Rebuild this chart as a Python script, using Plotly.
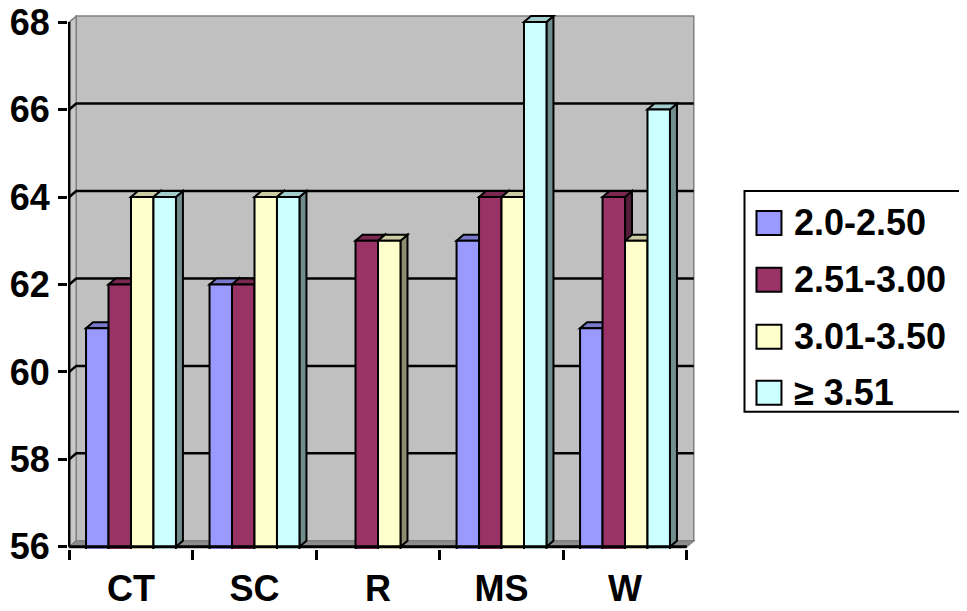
import plotly.graph_objects as go

# ---------------- data ----------------
categories = ["CT", "SC", "R", "MS", "W"]
series_names = ["2.0-2.50", "2.51-3.00", "3.01-3.50", "\u2265 3.51"]
s_20_250 = [61, 62, None, 63, 61]
s_251_300 = [62, 62, 63, 64, 64]
s_301_350 = [64, 64, 63, 64, 63]
s_351_up = [64, 64, None, 68, 66]
y_ticks = [56, 58, 60, 62, 64, 66, 68]

series_values = [s_20_250, s_251_300, s_301_350, s_351_up]
colors = ["#9999FF", "#993366", "#FFFFCC", "#CCFFFF"]


def shade(hexcol, f):
    h = hexcol.lstrip("#")
    r, g, b = (int(h[i:i + 2], 16) for i in (0, 2, 4))
    return "#%02X%02X%02X" % (int(r * f), int(g * f), int(b * f))


top_colors = [shade(c, 0.8) for c in colors]
side_colors = [shade(c, 0.55) for c in colors]

# ---------------- geometry (style) ----------------
OFF = 8               # default page body margin of the html page
W, H = 967 - OFF, 611 - OFF
PX_X = 123.6          # px per category unit
PX_Y = 43.75          # px per value unit
DXU = 7 / PX_X        # 3D depth offset (x, data units)
DYU = 6 / PX_Y        # 3D depth offset (y, data units)
BARGAP = 0.272
YMIN, YMAX = 56, 68

x_range = [-0.51, len(categories) - 0.5 + DXU + 0.01]
y_range = [YMIN - 0.05, YMAX + DYU + 0.025]

plot_w = (x_range[1] - x_range[0]) * PX_X
plot_h = (y_range[1] - y_range[0]) * PX_Y
m_l = 68 - OFF
m_t = 15 - OFF
m_r = W - m_l - plot_w
m_b = H - m_t - plot_h

xpos = list(range(len(categories)))
FONT = dict(family="Arial, Liberation Sans, sans-serif", size=36, color="black", weight="bold")

fig = go.Figure()
for name, vals, col in zip(series_names, series_values, colors):
    fig.add_trace(go.Bar(
        x=xpos, y=vals, name=name, marker=dict(color=col, line=dict(color="black", width=2)),
        showlegend=False,
    ))

shapes = []
L, R = -0.5, len(categories) - 0.5


def P(pts):
    return "M " + " L ".join(f"{x:.5f},{y:.5f}" for x, y in pts) + " Z"


def PL(pts):
    return "M " + " L ".join(f"{x:.5f},{y:.5f}" for x, y in pts)


# back wall
shapes.append(dict(type="rect", xref="x", yref="y", layer="below",
                   x0=L + DXU, x1=R + DXU, y0=YMIN + DYU, y1=YMAX + DYU,
                   fillcolor="#C0C0C0", line=dict(color="#808080", width=1.5)))
# left wall
shapes.append(dict(type="path", xref="x", yref="y", layer="below",
                   path=P([(L, YMIN), (L + DXU, YMIN + DYU), (L + DXU, YMAX + DYU), (L, YMAX)]),
                   fillcolor="#C8C8C8", line=dict(color="#808080", width=1.5)))
# floor
shapes.append(dict(type="path", xref="x", yref="y", layer="below",
                   path=P([(L, YMIN), (R, YMIN), (R + DXU, YMIN + DYU), (L + DXU, YMIN + DYU)]),
                   fillcolor="#8C8C8C", line=dict(color="#808080", width=1.5)))
# gridlines on walls
for v in y_ticks[1:-1]:
    shapes.append(dict(type="path", xref="x", yref="y", layer="below",
                       path=PL([(L, v), (L + DXU, v + DYU), (R + DXU, v + DYU)]),
                       line=dict(color="black", width=2.5)))

# 3D faces of the bars
nser = len(series_values)
bw = (1 - BARGAP) / nser
for i in xpos:
    for k, vals in enumerate(series_values):
        v = vals[i]
        if v is None:
            continue
        xl = i - (1 - BARGAP) / 2 + k * bw
        xr = xl + bw
        shapes.append(dict(type="path", xref="x", yref="y", layer="below",
                           path=P([(xr, YMIN), (xr + DXU, YMIN + DYU), (xr + DXU, v + DYU), (xr, v)]),
                           fillcolor=side_colors[k], line=dict(color="black", width=2)))
        shapes.append(dict(type="path", xref="x", yref="y", layer="below",
                           path=P([(xl, v), (xr, v), (xr + DXU, v + DYU), (xl + DXU, v + DYU)]),
                           fillcolor=top_colors[k], line=dict(color="black", width=2)))

# front axis lines
shapes.append(dict(type="line", xref="x", yref="y", x0=L, x1=L, y0=YMIN, y1=YMAX,
                   line=dict(color="black", width=2.5)))
shapes.append(dict(type="line", xref="x", yref="y", x0=L, x1=R, y0=YMIN, y1=YMIN,
                   line=dict(color="black", width=3)))


# ---------------- manual legend (page pixel positions) ----------------
def px2paper_x(px):
    return (px - OFF - m_l) / plot_w


def px2paper_y(py):
    return (m_t + plot_h - (py - OFF)) / plot_h


annotations = []
shapes.append(dict(type="rect", xref="paper", yref="paper",
                   x0=px2paper_x(745), x1=px2paper_x(975), y0=px2paper_y(412), y1=px2paper_y(191),
                   fillcolor="white", line=dict(color="black", width=2)))
leg_centers = [223, 280, 337, 393]
for name, col, cy in zip(series_names, colors, leg_centers):
    shapes.append(dict(type="rect", xref="paper", yref="paper",
                       x0=px2paper_x(757), x1=px2paper_x(782),
                       y0=px2paper_y(cy + 12), y1=px2paper_y(cy - 12),
                       fillcolor=col, line=dict(color="black", width=2)))
    annotations.append(dict(xref="paper", yref="paper", x=px2paper_x(793), y=px2paper_y(cy),
                            xanchor="left", yanchor="middle", text=name, showarrow=False,
                            font=FONT))

fig.update_layout(
    width=W, height=H,
    margin=dict(l=m_l, r=m_r, t=m_t, b=m_b, pad=0, autoexpand=False),
    paper_bgcolor="white", plot_bgcolor="white",
    barmode="group", bargap=BARGAP, bargroupgap=0,
    showlegend=False,
    shapes=shapes, annotations=annotations,
    font=FONT,
    xaxis=dict(range=x_range, tickmode="array", tickvals=xpos, ticktext=categories,
               ticks="", showgrid=False, zeroline=False, showline=False, automargin=False,
               tickfont=FONT, ticklabelstandoff=15, ticklabeloverflow="allow",
               minor=dict(tickmode="array", tickvals=[x - 0.5 for x in range(len(categories) + 1)],
                          ticks="outside", ticklen=10, tickwidth=2.5, tickcolor="black", showgrid=False)),
    yaxis=dict(range=y_range, tickmode="array", tickvals=y_ticks, ticks="outside",
               ticklen=9, tickwidth=2.5, tickcolor="black", showgrid=False, zeroline=False,
               showline=False, automargin=False, tickfont=FONT, ticklabelstandoff=1,
               ticklabeloverflow="allow"),
)

fig.write_html("out.html")
